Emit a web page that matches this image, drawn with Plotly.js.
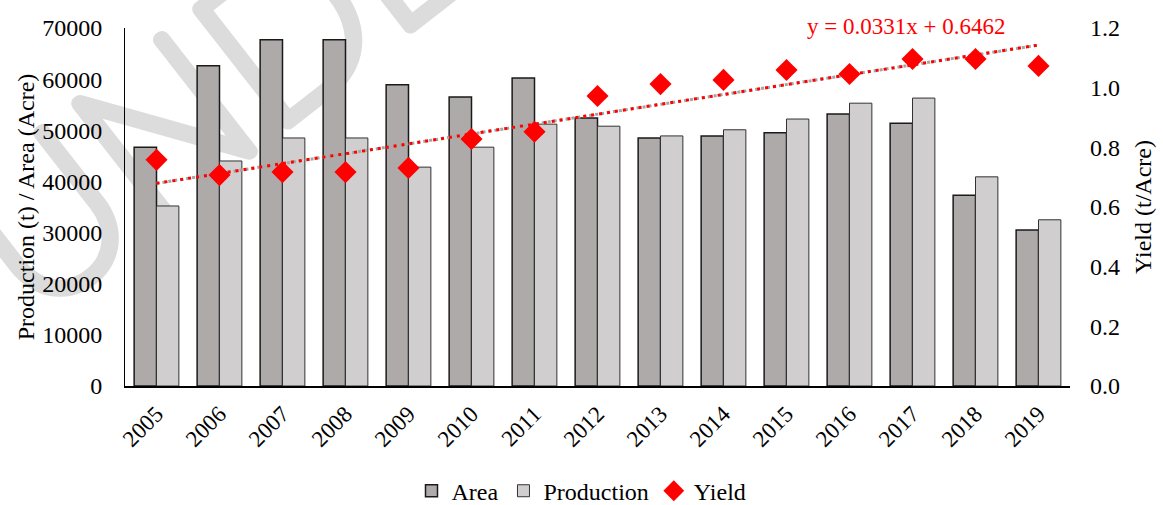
<!DOCTYPE html>
<html>
<head>
<meta charset="utf-8">
<script src="https://cdn.plot.ly/plotly-3.0.1.min.js"></script>
<style>html,body{margin:0;padding:0;background:#fff;}#chart{width:1163px;height:505px;}</style>
</head>
<body>
<div id="chart"></div>
<script>
const years = ["2005","2006","2007","2008","2009","2010","2011","2012","2013","2014","2015","2016","2017","2018","2019"];
const area = [46700,62600,67700,67700,58900,56500,60200,52400,48500,48900,49500,53200,51400,37300,30500];
const production = [35200,44000,48500,48500,42800,46700,51200,50800,48900,50100,52200,55300,56300,40900,32500];
const yieldVals = [0.758,0.707,0.717,0.717,0.731,0.828,0.852,0.972,1.012,1.026,1.059,1.046,1.096,1.096,1.073];
const trendSlope = 0.0331;
const trendIntercept = 0.6462;
const trendLabel = "y = 0.0331x + 0.6462";
const watermarkText = "UNDER REVIEW";

const trend = years.map((y,i)=> trendSlope*(i+1)+trendIntercept);
const font = "Liberation Serif, Times New Roman, serif";

const W = 1163, H = 505, M = {l:125, r:93, t:28, b:119};
const pw = W - M.l - M.r, ph = H - M.t - M.b;

const wmSvg = '<svg xmlns="http://www.w3.org/2000/svg" width="'+W+'" height="'+H+'" viewBox="0 0 '+W+' '+H+'">' +
  '<text transform="translate(32,322) rotate(-38)" font-family="Lato, DejaVu Sans, sans-serif" font-weight="100" font-size="205" ' +
  'fill="#dcdcdc" stroke="#dcdcdc" stroke-width="15" stroke-linejoin="round" stroke-linecap="round">' + watermarkText + '</text></svg>';
const wmSrc = "data:image/svg+xml;charset=utf-8," + encodeURIComponent(wmSvg);

const traces = [
  {type:"bar", name:"Area", x:years, y:area, marker:{color:"#aeaaaa", line:{color:"#1a1a1a", width:1.5}}},
  {type:"bar", name:"Production", x:years, y:production, marker:{color:"#d0cece", line:{color:"#333333", width:1}}},
  {type:"scatter", mode:"lines", x:years, y:trend, yaxis:"y2", showlegend:false, hoverinfo:"skip",
   line:{color:"#a6a6a6", width:3, dash:"dot"}},
  {type:"scatter", mode:"lines", x:years, y:trend, yaxis:"y2", showlegend:false, hoverinfo:"skip",
   line:{color:"#ff0000", width:3, dash:"3px,5px"}},
  {type:"scatter", mode:"markers", name:"Yield", x:years, y:yieldVals, yaxis:"y2",
   marker:{symbol:"diamond", color:"#ff0000", size:17}}
];

const layout = {
  width:W, height:H,
  margin:M,
  paper_bgcolor:"#ffffff", plot_bgcolor:"rgba(0,0,0,0)",
  font:{family:font, size:24, color:"#000"},
  barmode:"group", bargap:0.29, bargroupgap:0,
  showlegend:true,
  legend:{orientation:"h", x:0.5, xanchor:"center", xref:"container", yref:"container", y:0.072, yanchor:"top",
          font:{size:24}, traceorder:"normal", itemwidth:30, tracegroupgap:0},
  xaxis:{type:"category", range:[-0.5, years.length-0.5], showline:true, linecolor:"#000", linewidth:1.5, ticks:"", tickangle:-45,
         tickfont:{size:23}, ticklabelstandoff:4, showgrid:false, zeroline:false, automargin:false},
  yaxis:{range:[0,70000], dtick:10000, tickformat:"d", showline:true, linecolor:"#000", linewidth:1, ticks:"", showgrid:false,
         zeroline:false, tickfont:{size:24}, ticklabelstandoff:17, automargin:false,
         title:{text:"Production (t) / Area (Acre)", font:{size:24}, standoff:0}},
  yaxis2:{range:[0,1.2], dtick:0.2, tickformat:".1f", overlaying:"y", side:"right", showline:false, ticks:"",
          showgrid:false, zeroline:false, tickfont:{size:24}, ticklabelstandoff:19, automargin:false,
          title:{text:"Yield (t/Acre)", font:{size:24}, standoff:15}},
  images:[{source:wmSrc, xref:"paper", yref:"paper", x:-M.l/pw, y:1+M.t/ph, sizex:W/pw, sizey:H/ph,
           xanchor:"left", yanchor:"top", sizing:"stretch", layer:"below"}],
  annotations:[{text:trendLabel, xref:"paper", yref:"paper", x:0.826, y:1.005, xanchor:"center", yanchor:"middle",
                showarrow:false, font:{size:23, color:"#ff0000"}}]
};
Plotly.newPlot("chart", traces, layout, {displayModeBar:false, staticPlot:true});
</script>
</body>
</html>
